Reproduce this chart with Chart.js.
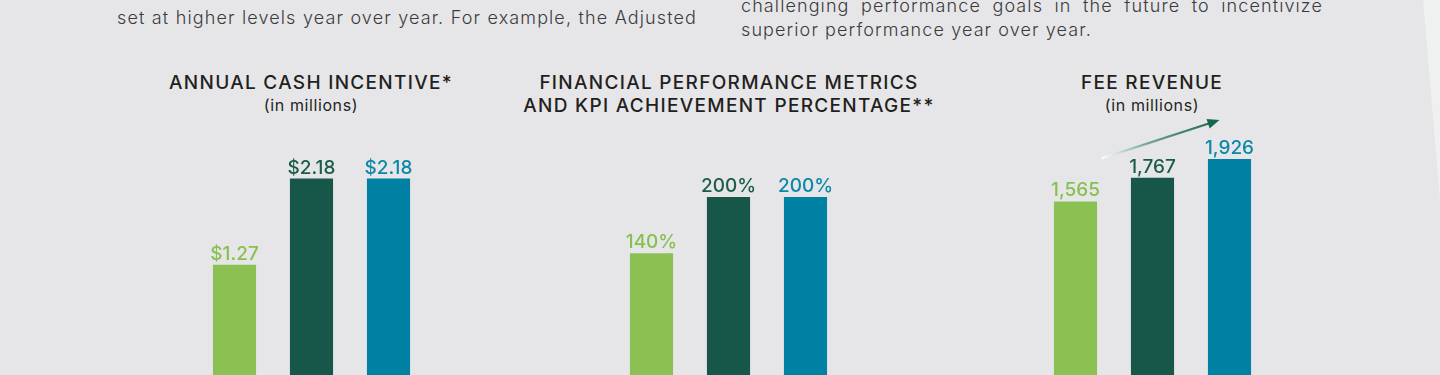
<!DOCTYPE html>
<html>
<head>
<meta charset="utf-8">
<script src="https://cdn.jsdelivr.net/npm/chart.js@4.4.0/dist/chart.umd.min.js"></script>
<style>
html, body { margin: 0; padding: 0; }
body { width: 1440px; height: 375px; overflow: hidden; background: #e6e6e8; position: relative; font-family: Inter, "Open Sans", sans-serif; }
.edge { position: absolute; left: 0; top: 0; width: 1440px; height: 375px; background: #eff0f0; clip-path: polygon(1423px 0, 1440px 0, 1440px 200px); }
.para { position: absolute; font-weight: 300; font-size: 18px; line-height: 23.5px; letter-spacing: 1.1px; color: #3b3b3e; text-align: justify; }
.title { position: absolute; width: 500px; text-align: center; color: #231f20; font-weight: 500; font-size: 19px; line-height: 23px; letter-spacing: 1.3px; }
.title .sub { display: block; font-weight: 400; font-size: 16px; letter-spacing: 0.6px; }
canvas { position: absolute; }
</style>
</head>
<body>
<div class="edge"></div>
<div class="para" style="left:117px; top:6px; width:580px; text-align-last: justify;">set at higher levels year over year. For example, the Adjusted</div>
<div class="para" style="left:741px; top:-6px; width:582px;">challenging performance goals in the future to incentivize superior performance year over year.</div>

<div class="title" style="left:61px; top:71px;">ANNUAL CASH INCENTIVE*<span class="sub">(in millions)</span></div>
<div class="title" style="left:479px; top:71px;">FINANCIAL PERFORMANCE METRICS<br>AND KPI ACHIEVEMENT PERCENTAGE**</div>
<div class="title" style="left:902px; top:71px;">FEE REVENUE<span class="sub">(in millions)</span></div>

<canvas id="cashChart" width="231" height="285" style="left:196px; top:100px;"></canvas>
<canvas id="kpiChart" width="231" height="285" style="left:613px; top:100px;"></canvas>
<canvas id="feeChart" width="231" height="285" style="left:1037px; top:100px;"></canvas>

<script>
// three years, oldest first (axis labels are not shown in the picture)
var years = ['Year 1', 'Year 2', 'Year 3'];

var cashIncentive = [1.27, 2.18, 2.18];   // $ millions
var kpiPercent = [140, 200, 200];         // %
var feeRevenue = [1565, 1767, 1926];      // $ millions

var barColors = ['#8bc153', '#17574a', '#0080a3'];
var labelColors = ['#88c050', '#1a5c4c', '#0c87a9'];

var formatters = {
    cashChart: function (v) { return '$' + v.toFixed(2); },
    kpiChart: function (v) { return v + '%'; },
    feeChart: function (v) { return v.toLocaleString('en-US'); }
};

var valueLabels = {
    id: 'valueLabels',
    afterDatasetsDraw: function (chart) {
        var ctx = chart.ctx;
        var fmt = formatters[chart.canvas.id];
        var meta = chart.getDatasetMeta(0);
        ctx.save();
        ctx.font = '500 19px Inter';
        ctx.textAlign = 'center';
        ctx.textBaseline = 'alphabetic';
        meta.data.forEach(function (bar, i) {
            ctx.fillStyle = labelColors[i];
            ctx.fillText(fmt(chart.data.datasets[0].data[i]), bar.x, bar.y - 5);
        });
        ctx.restore();
    }
};

var growthArrow = {
    id: 'growthArrow',
    afterDatasetsDraw: function (chart) {
        if (chart.canvas.id !== 'feeChart') return;
        var ctx = chart.ctx;
        var bars = chart.getDatasetMeta(0).data;
        var x0 = bars[0].x + 26, y0 = bars[0].y - 43;
        var x1 = bars[2].x - 10, y1 = bars[2].y - 39;
        var ang = Math.atan2(y1 - y0, x1 - x0);
        var grad = ctx.createLinearGradient(x0, y0, x1, y1);
        grad.addColorStop(0, 'rgba(255,255,255,0.9)');
        grad.addColorStop(0.4, '#6fa392');
        grad.addColorStop(1, '#17664f');
        ctx.save();
        ctx.strokeStyle = grad;
        ctx.lineWidth = 2.3;
        ctx.beginPath();
        ctx.moveTo(x0, y0);
        ctx.lineTo(x1 - 8 * Math.cos(ang), y1 - 8 * Math.sin(ang));
        ctx.stroke();
        ctx.fillStyle = '#17664f';
        ctx.beginPath();
        ctx.moveTo(x1, y1);
        ctx.lineTo(x1 - 12 * Math.cos(ang) + 5 * Math.sin(ang), y1 - 12 * Math.sin(ang) - 5 * Math.cos(ang));
        ctx.lineTo(x1 - 12 * Math.cos(ang) - 5 * Math.sin(ang), y1 - 12 * Math.sin(ang) + 5 * Math.cos(ang));
        ctx.closePath();
        ctx.fill();
        ctx.restore();
    }
};

function makeChart(id, values, yMax) {
    var ctx = document.getElementById(id).getContext('2d');
    return new Chart(ctx, {
        type: 'bar',
        data: {
            labels: years,
            datasets: [{
                data: values,
                backgroundColor: barColors,
                borderWidth: 0,
                categoryPercentage: 1,
                barPercentage: 0.56
            }]
        },
        options: {
            responsive: false,
            animation: false,
            layout: { padding: 0 },
            scales: {
                x: { display: false },
                y: { display: false, min: 0, max: yMax }
            },
            plugins: {
                legend: { display: false },
                tooltip: { enabled: false }
            }
        },
        plugins: [valueLabels, growthArrow]
    });
}

makeChart('cashChart', cashIncentive, 3.01);
makeChart('kpiChart', kpiPercent, 303);
makeChart('feeChart', feeRevenue, 2429);
</script>
</body>
</html>
